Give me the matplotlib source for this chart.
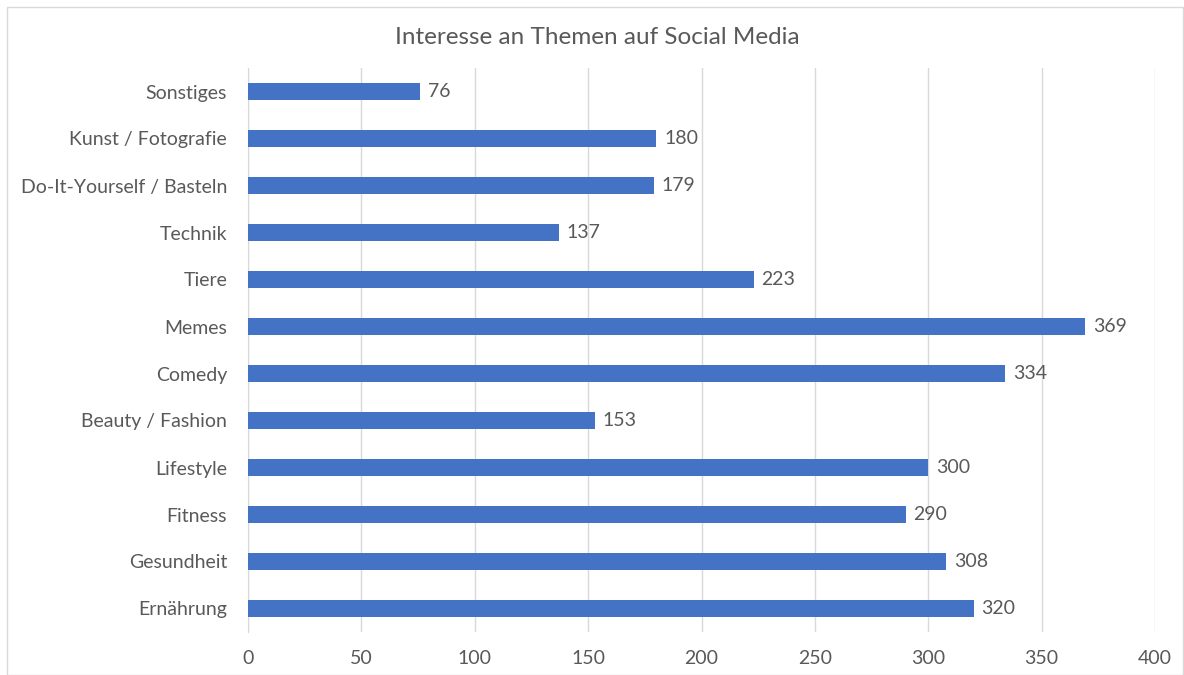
import matplotlib.pyplot as plt
from matplotlib.patches import Rectangle

# ---------------------------------------------------------
# Data (top to bottom as shown in the chart)
# ---------------------------------------------------------
categories = ["Sonstiges", "Kunst / Fotografie", "Do-It-Yourself / Basteln",
              "Technik", "Tiere", "Memes", "Comedy", "Beauty / Fashion",
              "Lifestyle", "Fitness", "Gesundheit", "Ernährung"]
values = [76, 180, 179, 137, 223, 369, 334, 153, 300, 290, 308, 320]
x_ticks = [0, 50, 100, 150, 200, 250, 300, 350, 400]

bar_color = "#4472C4"
text_color = "#595959"

plt.rcParams['font.family'] = ['Lato', 'DejaVu Sans']

fig = plt.figure(figsize=(11.84, 6.75), dpi=100)
ax = fig.add_axes([248 / 1184, 43 / 675, 907 / 1184, 564 / 675])

# plot first category at top
pos = list(range(len(categories)))[::-1]
ax.barh(pos, values, height=0.36, color=bar_color, zorder=3)

for p, v in zip(pos, values):
    ax.text(v + 3.5, p, str(v), va="center", ha="left",
            fontsize=14, color=text_color)

ax.set_xlim(0, 400)
ax.set_ylim(-0.5, len(categories) - 0.5)
ax.set_xticks(x_ticks)
ax.set_yticks(pos)
ax.set_yticklabels(categories)
ax.tick_params(axis="both", length=0, labelsize=14, labelcolor=text_color)
ax.tick_params(axis="x", pad=13)
ax.tick_params(axis="y", pad=15)

ax.grid(axis="x", color="#D9D9D9", linewidth=1, zorder=0)
for s in ["top", "right", "bottom"]:
    ax.spines[s].set_visible(False)
ax.spines["left"].set_color("#D9D9D9")

fig.text(597 / 1184, 1 - 37 / 675, "Interesse an Themen auf Social Media",
         ha="center", va="center", fontsize=17.5, color=text_color)

# light border around the chart area
fig.patches.append(Rectangle((7 / 1184, 0), 1 - 8 / 1184, 1 - 7 / 675,
                             transform=fig.transFigure, fill=False,
                             edgecolor="#D9D9D9", linewidth=1))

fig.savefig("out.png", dpi=100)
